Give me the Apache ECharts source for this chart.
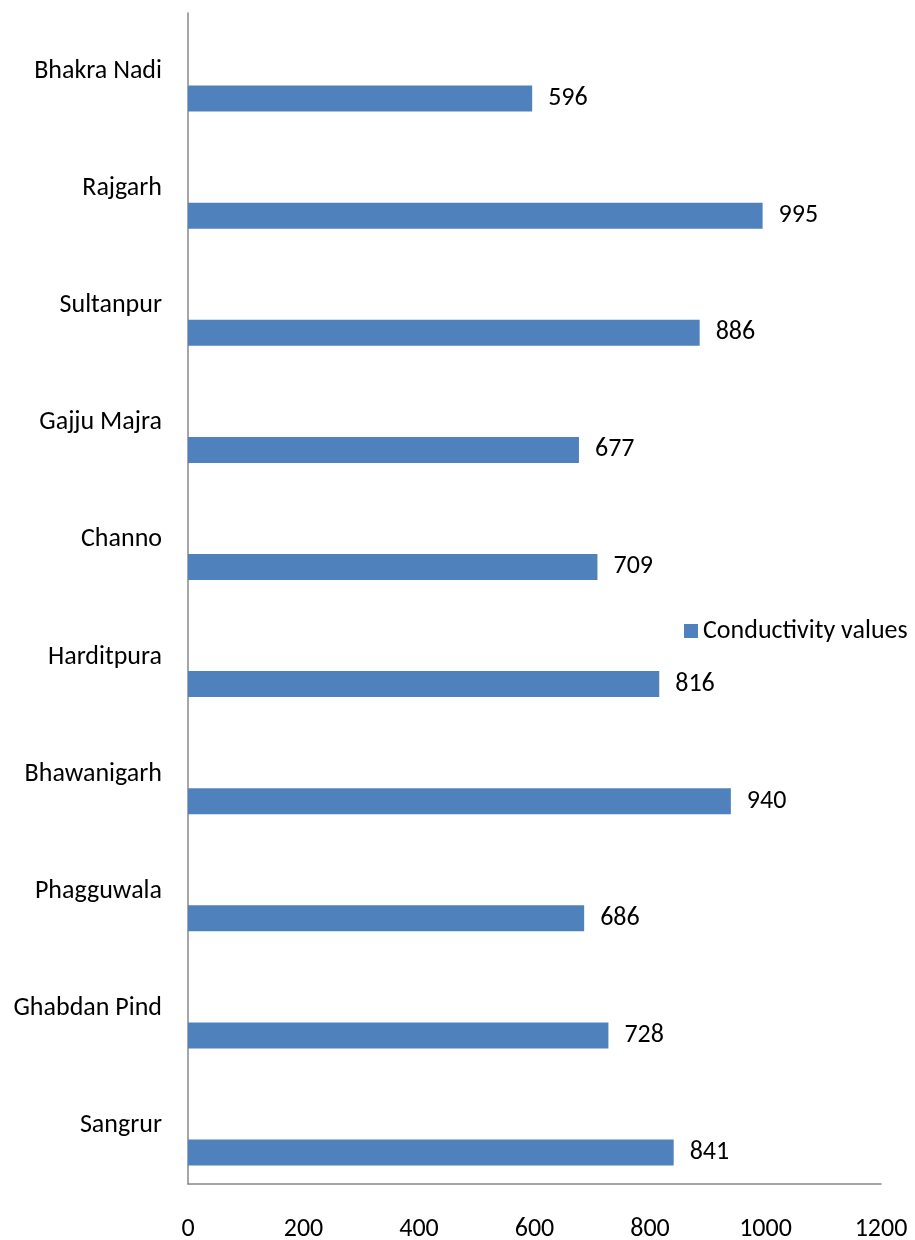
<!DOCTYPE html>
<html>
<head>
<meta charset="utf-8">
<script src="https://cdn.jsdelivr.net/npm/echarts@6/dist/echarts.min.js"></script>
<style>
  html, body { margin: 0; padding: 0; background: #fff; }
  #chart { width: 915px; height: 1240px; }
</style>
</head>
<body>
<div id="chart"></div>
<script>
// Sampling sites, listed top to bottom
const sites = ['Bhakra Nadi', 'Rajgarh', 'Sultanpur', 'Gajju Majra', 'Channo',
  'Harditpura', 'Bhawanigarh', 'Phagguwala', 'Ghabdan Pind', 'Sangrur'];
// Conductivity at each site
const conductivity = [596, 995, 886, 677, 709, 816, 940, 686, 728, 841];
const seriesName = 'Conductivity values';
// Value axis ticks
const axisMin = 0, axisMax = 1200, axisStep = 200;

const FONT = 'Carlito, Lato, "Open Sans", sans-serif';
const FS = 26;
const chart = echarts.init(document.getElementById('chart'), null, { renderer: 'canvas' });

chart.setOption({
  animation: false,
  backgroundColor: '#ffffff',
  grid: { left: 188, right: 34, top: 13, bottom: 56, containLabel: false, outerBoundsMode: 'none' },
  legend: {
    data: [seriesName],
    left: 679, top: 613,
    icon: 'rect', itemWidth: 14, itemHeight: 14, itemGap: 8,
    textStyle: { fontFamily: FONT, fontSize: FS, color: '#000' }
  },
  xAxis: {
    type: 'value', min: axisMin, max: axisMax, interval: axisStep,
    axisLine: { show: true, lineStyle: { color: '#888888', width: 1.5 } },
    axisTick: { show: false },
    splitLine: { show: false },
    axisLabel: { fontFamily: FONT, fontSize: FS, color: '#000', margin: 32,
      formatter: v => String(v) }
  },
  yAxis: {
    type: 'category', data: sites, inverse: true,
    axisLine: { show: true, lineStyle: { color: '#888888', width: 1.5 } },
    axisTick: { show: false },
    axisLabel: { fontFamily: FONT, fontSize: FS, color: '#000', margin: 26 }
  },
  series: [
    {
      // empty companion series that reserves the upper slot of each band
      name: 'blank', type: 'bar', data: sites.map(() => null),
      barWidth: 26, barGap: '108%'
    },
    {
      name: seriesName, type: 'bar', data: conductivity,
      barWidth: 26, barGap: '108%',
      itemStyle: { color: '#4F81BD' },
      label: { show: true, position: 'right', distance: 16,
        fontFamily: FONT, fontSize: FS, color: '#000' }
    }
  ]
});
</script>
</body>
</html>
